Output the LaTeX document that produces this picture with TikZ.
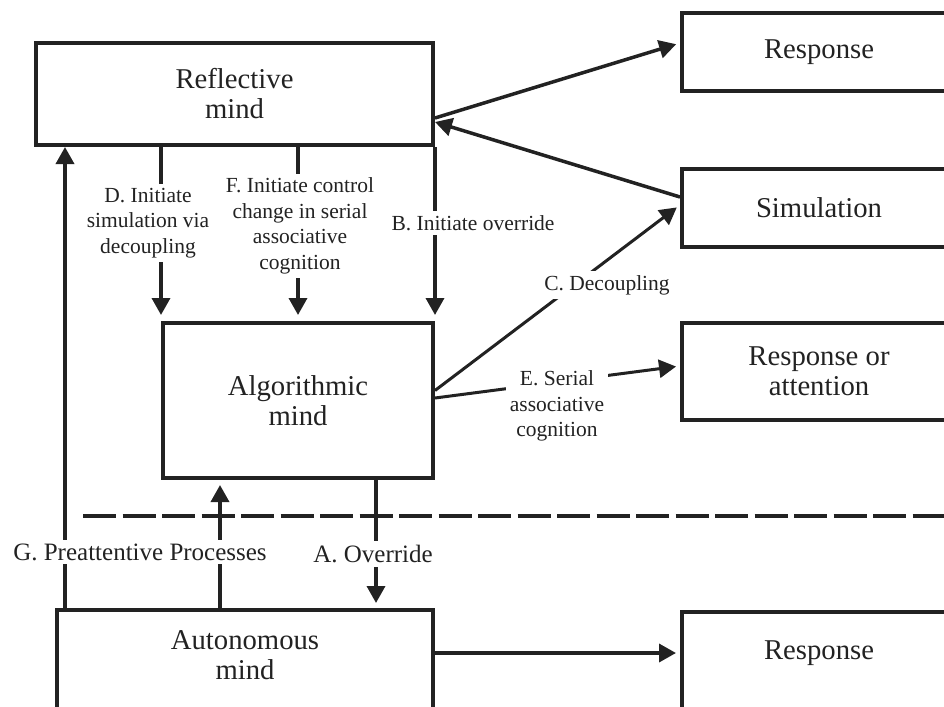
\documentclass[tikz,border=0pt]{standalone}
\usepackage{fontspec}
\setmainfont{Liberation Serif}
\usetikzlibrary{arrows.meta,calc}
\definecolor{ink}{HTML}{222222}
\begin{document}
\begin{tikzpicture}[x=1pt,y=-1pt,
 box/.style={draw=ink, line width=4pt, rectangle, inner sep=0pt},
 boxtext/.style={font=\fontsize{28.7}{30}\selectfont, align=center, inner sep=0pt, text=ink},
 arr/.style={draw=ink, line width=3.5pt, -{Triangle[length=17pt,width=18pt]}},
 lab/.style={font=\fontsize{21.5}{25.5}\selectfont, align=center, fill=white, inner sep=4pt, text=ink},
 biglab/.style={font=\fontsize{25}{28}\selectfont, fill=white, inner sep=4pt, text=ink},
 dashline/.style={draw=ink, line width=4pt, dash pattern=on 33pt off 6.5pt},
]
\useasboundingbox (0,0) rectangle (944,706);
\clip (0,0) rectangle (944,706);

% boxes
\node[box, boxtext, minimum width=397pt, minimum height=102pt] (refl) at (234.5,94) {Reflective\\mind};
\node[box, boxtext, minimum width=274pt, minimum height=78pt] (resp1) at (819,52) {Response};
\node[box, boxtext, minimum width=274pt, minimum height=78pt] (sim) at (819,208) {Simulation};
\node[box, boxtext, minimum width=274pt, minimum height=97pt] (roa) at (819,371.5) {Response or\\attention};
\node[box, boxtext, minimum width=270pt, minimum height=155pt] (alg) at (298,400.5) {Algorithmic\\mind};
\node[box, minimum width=376pt, minimum height=130pt] (autobox) at (245,675) {};
\node[boxtext] (autotext) at (245,655) {Autonomous\\mind};
\node[box, minimum width=274pt, minimum height=130pt] (resp3box) at (819,677) {};
\node[boxtext] (resp3text) at (819,653) {Response};

% dashed boundary
\coordinate (dashL) at (83,516);
\coordinate (dashR) at (960,516);
\draw[dashline] (dashL) -- (dashR);

% connectors
\draw[arr, shorten >=4pt] ([yshift=-24pt]refl.east) -- ([yshift=9pt]resp1.west);
\draw[arr] ([yshift=11pt]sim.west) -- ([yshift=-28pt]refl.east);
\draw[arr, line width=3pt, shorten >=4pt] ([yshift=10pt]alg.east) -- ([yshift=3pt]sim.west);
\draw[arr, line width=3pt, shorten >=4pt] ([yshift=2.5pt]alg.east) -- ([yshift=5.5pt]roa.west);

\draw[arr, shorten >=6pt] (refl.south -| alg.west) -- (alg.north west);
\draw[arr, shorten >=6pt] (refl.south -| alg.north) -- (alg.north);
\draw[arr, shorten >=6pt] (refl.south east) -- (alg.north east);

\draw[arr] ([xshift=10pt]autobox.north west) -- ([xshift=10pt]autobox.north west |- refl.south);
\draw[arr, shorten >=5pt] ([xshift=59pt]alg.south west |- autobox.north) -- ([xshift=59pt]alg.south west);
\draw[arr, shorten >=5pt] ([xshift=-59pt]alg.south east) -- ([xshift=-59pt]alg.south east |- autobox.north);
\draw[arr, shorten >=4pt] (autobox.east |- resp3text) -- (resp3box.west |- resp3text);

% labels
\node[lab] (labD) at (148,223) {D. Initiate\\simulation via\\decoupling};
\node[lab] (labF) at (300,226) {F. Initiate control\\change in serial\\associative\\cognition};
\node[lab] (labB) at (473,223) {B. Initiate override};
\node[lab] (labC) at (607,285) {C. Decoupling};
\node[lab] (labE) at (557,406) {E. Serial\\associative\\cognition};
\node[biglab] (labG) at (140,552) {G. Preattentive Processes};
\node[biglab] (labA) at (373,554) {A. Override};
\end{tikzpicture}
\end{document}
